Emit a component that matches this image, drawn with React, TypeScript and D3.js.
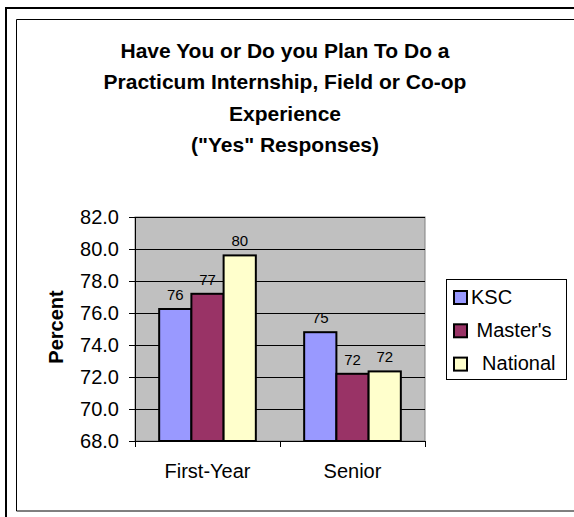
import React from 'react';
import * as d3 from 'd3';

const categories = ['First-Year', 'Senior'];
const seriesNames = ['KSC', "Master's", 'National'];
const legendLabels = ['KSC', " Master's", '  National'];
const kscValues = [76.25, 74.8];
const mastersValues = [77.2, 72.2];
const nationalValues = [79.6, 72.35];
const yTicks = [68, 70, 72, 74, 76, 78, 80, 82];
const titleLines = [
  'Have You or Do you Plan To Do a',
  'Practicum Internship, Field or Co-op',
  'Experience',
  '("Yes" Responses)',
];
const colors = ['#9999FF', '#993366', '#FFFFCC'];

const FONT = '"Liberation Sans", Arial, sans-serif';

export default function App() {
  const W = 574;
  const H = 517;
  const plot = { left: 135, right: 425, top: 217, bottom: 441 };

  const seriesValues = [kscValues, mastersValues, nationalValues];

  const y = d3.scaleLinear().domain([68, 82]).range([plot.bottom, plot.top]);
  const x0 = d3.scaleBand<string>().domain(categories).range([plot.left, plot.right]).padding(0);
  const x1 = d3
    .scaleBand<string>()
    .domain(seriesNames)
    .range([0, x0.bandwidth()])
    .paddingInner(0)
    .paddingOuter(0.75);
  const fmt = d3.format('.0f');

  const catTicks = [plot.left, ...categories.map((c) => (x0(c) as number) + x0.bandwidth())];

  return (
    <svg
      width={W}
      height={H}
      style={{ position: 'absolute', left: 0, top: 0, background: '#fff' }}
      fontFamily={FONT}
    >
      <rect x={0} y={0} width={W} height={H} fill="#fff" />
      {/* frames (right/bottom edges of outer frame lie outside the picture) */}
      <path d={`M6,${H} V8 H${W}`} fill="none" stroke="#000" strokeWidth={2} />
      <path d={`M${W},19.5 H16.5 V511 H${W}`} fill="none" stroke="#000" strokeWidth={1} />

      {/* title */}
      <g fontWeight="bold" fontSize={21} textAnchor="middle" fill="#000">
        {titleLines.map((t, i) => (
          <text key={i} x={285} y={58 + i * 31.3}>
            {t}
          </text>
        ))}
      </g>

      {/* plot area */}
      <rect
        x={plot.left}
        y={plot.top}
        width={plot.right - plot.left}
        height={plot.bottom - plot.top}
        fill="#C0C0C0"
        stroke="#808080"
        strokeWidth={1}
      />
      {yTicks.map((t) => (
        <line
          key={'g' + t}
          x1={plot.left}
          x2={plot.right}
          y1={Math.round(y(t)) + 0.5}
          y2={Math.round(y(t)) + 0.5}
          stroke="#000"
          strokeWidth={1}
        />
      ))}

      {/* bars */}
      {categories.map((c, ci) => (
        <g key={c}>
          {seriesNames.map((s, si) => {
            const v = seriesValues[si][ci];
            const bx = (x0(c) as number) + (x1(s) as number);
            const bw = x1.bandwidth();
            return (
              <g key={s}>
                <rect
                  x={bx}
                  y={y(v)}
                  width={bw}
                  height={y(68) - y(v)}
                  fill={colors[si]}
                  stroke="#000"
                  strokeWidth={2}
                />
                <text
                  x={bx + bw / 2}
                  y={y(v) - 9}
                  textAnchor="middle"
                  fontSize={15}
                  fill="#000"
                >
                  {fmt(v)}
                </text>
              </g>
            );
          })}
        </g>
      ))}

      {/* y axis */}
      <line x1={plot.left + 0.5} x2={plot.left + 0.5} y1={plot.top} y2={plot.bottom} stroke="#000" />
      {yTicks.map((t) => (
        <g key={'t' + t}>
          <line
            x1={plot.left - 6}
            x2={plot.left}
            y1={Math.round(y(t)) + 0.5}
            y2={Math.round(y(t)) + 0.5}
            stroke="#000"
          />
          <text x={119} y={y(t)} dy="0.36em" textAnchor="end" fontSize={20} fill="#000">
            {d3.format('.1f')(t)}
          </text>
        </g>
      ))}

      {/* x axis */}
      <line x1={plot.left} x2={plot.right} y1={plot.bottom + 0.5} y2={plot.bottom + 0.5} stroke="#000" />
      {catTicks.map((tx, i) => (
        <line
          key={'xt' + i}
          x1={Math.round(tx) + 0.5}
          x2={Math.round(tx) + 0.5}
          y1={plot.bottom}
          y2={plot.bottom + 6}
          stroke="#000"
        />
      ))}
      {categories.map((c) => (
        <text
          key={'xl' + c}
          x={(x0(c) as number) + x0.bandwidth() / 2}
          y={478}
          textAnchor="middle"
          fontSize={20}
          fill="#000"
        >
          {c}
        </text>
      ))}

      {/* y axis title */}
      <text
        transform="translate(63,327) rotate(-90)"
        textAnchor="middle"
        fontSize={20}
        fontWeight="bold"
        fill="#000"
      >
        Percent
      </text>

      {/* legend */}
      <rect x={446.5} y={279.5} width={120} height={100} fill="#fff" stroke="#000" strokeWidth={1} />
      {legendLabels.map((l, i) => (
        <g key={'lg' + i}>
          <rect
            x={454}
            y={291 + i * 33.3}
            width={13}
            height={13}
            fill={colors[i]}
            stroke="#000"
            strokeWidth={2}
          />
          <text
            x={471}
            y={303.5 + i * 33.3}
            fontSize={20}
            fill="#000"
            style={{ whiteSpace: 'pre' }}
            xmlSpace="preserve"
          >
            {l}
          </text>
        </g>
      ))}
    </svg>
  );
}
